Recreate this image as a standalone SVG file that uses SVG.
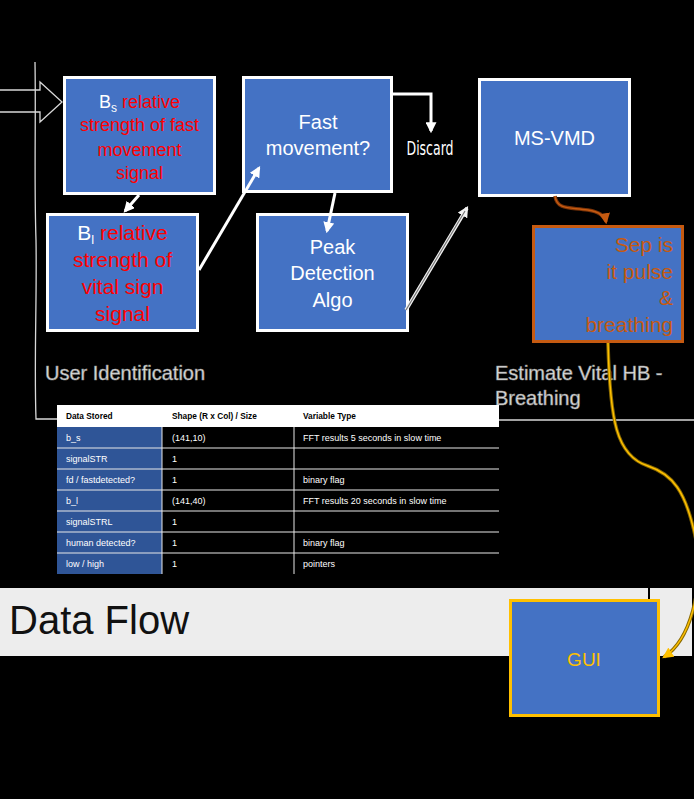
<svg xmlns="http://www.w3.org/2000/svg" width="694" height="799" viewBox="0 0 694 799">
<style>
.box{fill:#4472C4;stroke:#fff;stroke-width:3}
.t{font-family:"Liberation Sans",Arial,sans-serif;text-anchor:middle}
.w{fill:#fff}
.r{fill:#FF0000}
.lbl{font-family:"Liberation Sans",Arial,sans-serif;font-size:20px;fill:#e4e4e4;stroke:#8a8a8a;stroke-width:0.6}
.wl{fill:none;stroke:#fff;stroke-width:3}
.tb{font-family:"Liberation Sans",Arial,sans-serif;font-size:9px;fill:#fff}
.th{font-family:"Liberation Sans",Arial,sans-serif;font-size:8.3px;font-weight:bold;fill:#000}
.sep{stroke:#e8e8e8;stroke-width:1}
</style>
<defs>
<marker id="aw" viewBox="0 0 10 10" refX="8" refY="5" markerWidth="11" markerHeight="11" markerUnits="userSpaceOnUse" orient="auto"><path d="M0,0 L10,5 L0,10 z" fill="#fff"/></marker>
<marker id="ag" viewBox="0 0 10 10" refX="8" refY="5" markerWidth="11" markerHeight="11" markerUnits="userSpaceOnUse" orient="auto"><path d="M0,0 L10,5 L0,10 z" fill="#f2f2f2"/></marker>
<marker id="ao" viewBox="0 0 10 10" refX="8" refY="5" markerWidth="11" markerHeight="11" markerUnits="userSpaceOnUse" orient="auto"><path d="M0,0 L10,5 L0,10 z" fill="#C55A11"/></marker>
<marker id="ay" viewBox="0 0 10 10" refX="8" refY="5" markerWidth="11" markerHeight="11" markerUnits="userSpaceOnUse" orient="auto"><path d="M0,0 L10,5 L0,10 z" fill="#FFC000"/></marker>
</defs>
<rect x="0" y="0" width="694" height="799" fill="#000"/>

<!-- frame lines -->
<g id="frame" fill="none" stroke="#d8d8d8" stroke-width="1.3">
<path d="M35,62 C36,120 34,180 36,240 C37,300 34,360 36,419 L57,419"/>
<path d="M499,420 L694,420"/>
<path d="M0,90 L40,90 L40,82 L62,102 L40,122 L40,112 L0,112"/>
</g>

<!-- Data Flow band -->
<g id="band">
<rect x="0" y="588" width="692" height="68" fill="#EDEDED"/>
<line x1="649" y1="588" x2="649" y2="600" stroke="#000" stroke-width="2"/>
<text x="9" y="634" font-family="'Liberation Sans',Arial,sans-serif" font-size="40" fill="#111">Data Flow</text>
</g>

<!-- labels -->
<g id="labels">
<text class="lbl" x="45" y="380">User Identification</text>
<text class="lbl" x="495" y="380">Estimate Vital HB -</text>
<text class="lbl" x="495" y="405">Breathing</text>
</g>

<!-- table -->
<g id="table">
<rect x="57" y="405" width="442" height="22" fill="#fff"/>
<rect x="57" y="427" width="105" height="147" fill="#2F5597"/>
<g class="sep">
<line x1="57" y1="448" x2="499" y2="448"/>
<line x1="57" y1="469" x2="499" y2="469"/>
<line x1="57" y1="490" x2="499" y2="490"/>
<line x1="57" y1="511" x2="499" y2="511"/>
<line x1="57" y1="532" x2="499" y2="532"/>
<line x1="57" y1="553" x2="499" y2="553"/>
<line x1="162" y1="427" x2="162" y2="574"/>
<line x1="294" y1="427" x2="294" y2="574"/>
</g>
<text class="th" x="66" y="419">Data Stored</text>
<text class="th" x="172" y="419">Shape (R x Col) / Size</text>
<text class="th" x="303" y="419">Variable Type</text>
<text class="tb" x="66" y="441">b_s</text><text class="tb" x="172" y="441">(141,10)</text><text class="tb" x="303" y="441">FFT results 5 seconds in slow time</text>
<text class="tb" x="66" y="462">signalSTR</text><text class="tb" x="172" y="462">1</text>
<text class="tb" x="66" y="483">fd / fastdetected?</text><text class="tb" x="172" y="483">1</text><text class="tb" x="303" y="483">binary flag</text>
<text class="tb" x="66" y="504">b_l</text><text class="tb" x="172" y="504">(141,40)</text><text class="tb" x="303" y="504">FFT results 20 seconds in slow time</text>
<text class="tb" x="66" y="525">signalSTRL</text><text class="tb" x="172" y="525">1</text>
<text class="tb" x="66" y="546">human detected?</text><text class="tb" x="172" y="546">1</text><text class="tb" x="303" y="546">binary flag</text>
<text class="tb" x="66" y="567">low / high</text><text class="tb" x="172" y="567">1</text><text class="tb" x="303" y="567">pointers</text>
</g>

<!-- nodes -->
<g id="node-bs">
<rect class="box" x="64.5" y="77.5" width="150" height="116"/>
<text class="t" font-size="18" x="139.5" y="108"><tspan class="w">B</tspan><tspan class="w" font-size="12" dy="4">s</tspan><tspan class="r" dy="-4"> relative</tspan></text>
<text class="t r" font-size="18" x="139.5" y="131">strength of fast</text>
<text class="t r" font-size="18" x="139.5" y="156">movement</text>
<text class="t r" font-size="18" x="139.5" y="179">signal</text>
</g>
<g id="node-bl">
<rect class="box" x="47.5" y="214.5" width="150" height="116"/>
<text class="t" font-size="21" x="122.5" y="240"><tspan class="w">B</tspan><tspan class="w" font-size="13" dy="4">l</tspan><tspan class="r" dy="-4"> relative</tspan></text>
<text class="t r" font-size="21" x="122.5" y="267">strength of</text>
<text class="t r" font-size="21" x="122.5" y="294">vital sign</text>
<text class="t r" font-size="21" x="122.5" y="321">signal</text>
</g>
<g id="node-fast">
<rect class="box" x="243.5" y="77.5" width="148" height="114"/>
<text class="t w" font-size="20" x="318" y="129">Fast</text>
<text class="t w" font-size="20" x="318" y="155">movement?</text>
</g>
<g id="node-discard">
<text x="430" y="155" font-family="'Liberation Sans Narrow','DejaVu Sans Condensed',sans-serif" font-size="20" fill="#fff" text-anchor="middle" textLength="47" lengthAdjust="spacingAndGlyphs">Discard</text>
</g>
<g id="node-peak">
<rect class="box" x="257.5" y="214.5" width="150" height="116"/>
<text class="t w" font-size="20" x="332.5" y="254">Peak</text>
<text class="t w" font-size="20" x="332.5" y="280">Detection</text>
<text class="t w" font-size="20" x="332.5" y="307">Algo</text>
</g>
<g id="node-msvmd">
<rect class="box" x="479.5" y="79.5" width="150" height="116"/>
<text class="t w" font-size="20" x="554.5" y="145">MS-VMD</text>
</g>
<g id="node-sep">
<rect x="533.5" y="226.5" width="149" height="115" fill="#4472C4" stroke="#C55A11" stroke-width="3"/>
<g font-family="'Liberation Sans',Arial,sans-serif" font-size="21" fill="#C55A11" text-anchor="end">
<text x="673" y="252">Sep is</text>
<text x="673" y="279">it pulse</text>
<text x="673" y="305">&amp;</text>
<text x="673" y="332">breathing</text>
</g>
</g>
<g id="node-gui">
<rect x="510.5" y="600.5" width="148" height="115" fill="#4472C4" stroke="#FFC000" stroke-width="3"/>
<text class="t" font-size="19" fill="#FFC000" x="584" y="666">GUI</text>
</g>

<!-- connectors -->
<g id="connectors">
<line class="wl" x1="139" y1="195" x2="125" y2="211" marker-end="url(#aw)"/>
<line class="wl" x1="199" y1="270" x2="259" y2="168" marker-end="url(#aw)"/>
<line class="wl" x1="335" y1="193" x2="327" y2="231" marker-end="url(#aw)"/>
<path class="wl" d="M393,94 L431,94 L431,131" marker-end="url(#aw)"/>
<line x1="406" y1="310" x2="467" y2="208" stroke="#f2f2f2" stroke-width="3.5" marker-end="url(#ag)"/>
<line x1="406" y1="310" x2="465" y2="211" stroke="#777" stroke-width="1.2"/>
<path d="M555,196 C557,211 572,207 588,210 C600,212 605,216 606,222" fill="none" stroke="#7a3308" stroke-width="3.5" marker-end="url(#ao)"/>
<path d="M555,196 C557,211 572,207 588,210 C600,212 605,216 606,222" fill="none" stroke="#C55A11" stroke-width="1.5"/>
<path d="M608,343 C610,420 616,456 648,466 C672,474 686,490 696,540 C704,590 690,640 664,657" fill="none" stroke="#8a6a00" stroke-width="3.5" marker-end="url(#ay)"/>
<path d="M608,343 C610,420 616,456 648,466 C672,474 686,490 696,540 C704,590 690,640 664,657" fill="none" stroke="#FFC000" stroke-width="1.5"/>
</g>
</svg>
